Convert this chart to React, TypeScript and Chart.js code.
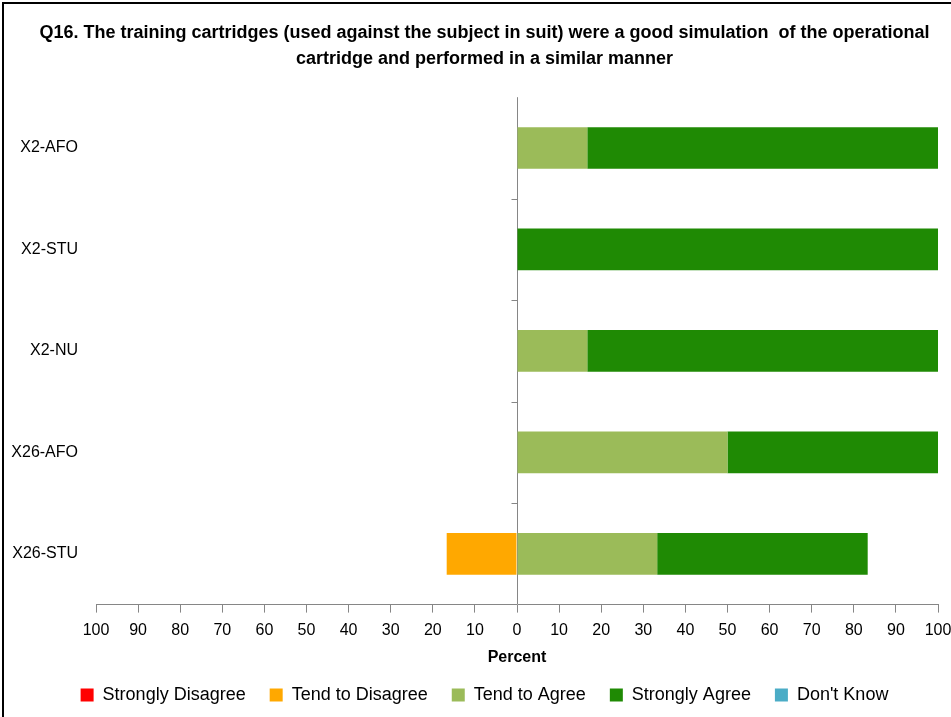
import React, { useEffect, useRef } from 'react';
import { Chart, registerables } from 'chart.js';
Chart.register(...registerables);

const FONT = "'Liberation Sans', Arial, sans-serif";

const titleLines = [
  'Q16. The training cartridges (used against the subject in suit) were a good simulation  of the operational',
  'cartridge and performed in a similar manner',
];
const categories = ['X2-AFO', 'X2-STU', 'X2-NU', 'X26-AFO', 'X26-STU'];
const stronglyDisagree = [0, 0, 0, 0, 0];
const tendToDisagree = [0, 0, 0, 0, -16.7];
const tendToAgree = [16.7, 0, 16.7, 50, 33.3];
const stronglyAgree = [83.3, 100, 83.3, 50, 50];
const dontKnow = [0, 0, 0, 0, 0];
const seriesNames = ['Strongly Disagree', 'Tend to Disagree', 'Tend to Agree', 'Strongly Agree', "Don't Know"];
const seriesColors = ['#FF0000', '#FFA800', '#9BBB59', '#1F8A04', '#4BACC6'];
const xMin = -100;
const xMax = 100;
const xStep = 10;

const framePlugin = {
  id: 'frameAndMarks',
  beforeDraw(chart: any) {
    const c = chart.ctx;
    c.save();
    c.fillStyle = '#ffffff';
    c.fillRect(0, 0, chart.width, chart.height);
    c.restore();
  },
  afterDraw(chart: any) {
    const c = chart.ctx;
    const xs = chart.scales.x;
    const ys = chart.scales.y;
    const x0 = Math.round(xs.getPixelForValue(0)) + 0.5;
    c.save();
    c.strokeStyle = '#868686';
    c.lineWidth = 1;
    for (let i = 0; i < categories.length - 1; i++) {
      const y = Math.round((ys.getPixelForTick(i) + ys.getPixelForTick(i + 1)) / 2) + 0.5;
      c.beginPath();
      c.moveTo(x0 - 6, y);
      c.lineTo(x0, y);
      c.stroke();
    }
    c.strokeStyle = '#000000';
    c.lineWidth = 2;
    c.strokeRect(3, 3, chart.width + 20, chart.height + 20);
    c.restore();
  },
};

export default function App() {
  const ref = useRef<HTMLCanvasElement>(null);
  useEffect(() => {
    document.body.style.margin = '0';
    const values = [stronglyDisagree, tendToDisagree, tendToAgree, stronglyAgree, dontKnow];
    const chart = new Chart(ref.current as HTMLCanvasElement, {
      type: 'bar',
      data: {
        labels: categories,
        datasets: values.map((v, i) => ({
          label: seriesNames[i],
          data: v,
          backgroundColor: seriesColors[i],
          borderWidth: 0,
          barPercentage: 0.41,
          categoryPercentage: 1,
          stack: 's',
        })),
      },
      options: {
        indexAxis: 'y',
        animation: false,
        responsive: false,
        layout: { padding: { left: 0, right: -18, top: 0, bottom: 3 } },
        plugins: {
          title: {
            display: true,
            text: titleLines,
            color: '#000',
            font: { family: FONT, size: 18, weight: 'bold', lineHeight: 1.45 },
            padding: { top: 20, bottom: 25 },
          },
          legend: {
            position: 'bottom',
            labels: {
              boxWidth: 13,
              boxHeight: 13,
              color: '#000',
              font: { family: FONT, size: 18 },
              padding: 24,
            },
          },
          tooltip: { enabled: false },
        },
        scales: {
          x: {
            stacked: true,
            min: xMin,
            max: xMax,
            ticks: {
              stepSize: xStep,
              autoSkip: false,
              maxRotation: 0,
              color: '#000',
              font: { family: FONT, size: 16 },
              padding: 8,
              callback: (v: any) => String(Math.abs(Number(v))),
            },
            grid: {
              color: (ctx: any) => (ctx.tick && ctx.tick.value === 0 ? '#868686' : 'rgba(0,0,0,0)'),
              tickColor: '#868686',
              tickLength: 8,
            },
            border: { display: true, color: '#868686', width: 1 },
            title: {
              display: true,
              text: 'Percent',
              color: '#000',
              font: { family: FONT, size: 16, weight: 'bold' },
              padding: { top: 0, bottom: -5 },
            },
            afterFit: (s: any) => {
              s.paddingRight = 13;
            },
          },
          y: {
            stacked: true,
            grid: { display: false },
            border: { display: false },
            ticks: { color: '#000', font: { family: FONT, size: 16 }, padding: 10 },
            afterFit: (s: any) => {
              s.width = 96;
            },
          },
        },
      },
      plugins: [framePlugin],
    } as any);
    return () => chart.destroy();
  }, []);
  return (
    <div style={{ width: 951, height: 717 }}>
      <canvas ref={ref} width={951} height={717} style={{ display: 'block' }} />
    </div>
  );
}
